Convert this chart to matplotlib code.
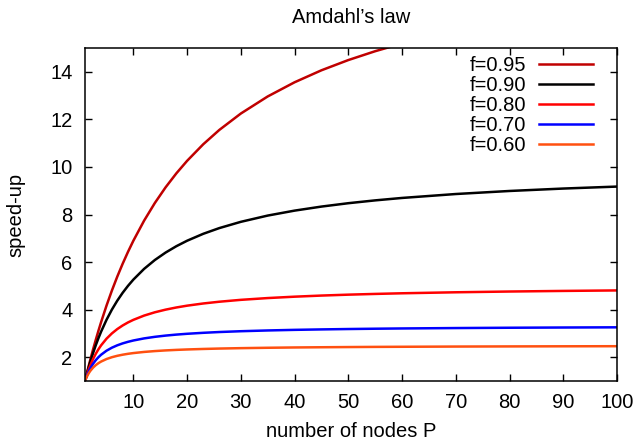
import matplotlib
matplotlib.use("Agg")
import matplotlib.pyplot as plt

plt.rcParams['font.family'] = ['Liberation Sans', 'DejaVu Sans']

title = "Amdahl\u2019s law"
xlabel = "number of nodes P"
ylabel = "speed-up"

P = [1, 1.25, 1.5, 1.75, 2, 2.5, 3, 3.5, 4, 5, 6, 7, 8, 9, 10, 12, 14, 16, 18, 20, 23, 26,
     30, 35, 40, 45, 50, 55, 60, 70, 80, 90, 100]

s095 = [1.0, 1.235, 1.463, 1.687, 1.905, 2.326, 2.727, 3.111, 3.478, 4.167, 4.800, 5.385, 5.926, 6.429,
        6.897, 7.742, 8.485, 9.143, 9.730, 10.256, 10.952, 11.556, 12.245, 12.963, 13.559, 14.063,
        14.493, 14.865, 15.190, 15.730, 16.162, 16.514, 16.807]
s090 = [1.0, 1.220, 1.429, 1.628, 1.818, 2.174, 2.5, 2.8, 3.077, 3.571, 4.0, 4.375, 4.706, 5.0,
        5.263, 5.714, 6.087, 6.4, 6.667, 6.897, 7.188, 7.429, 7.692, 7.955, 8.163, 8.333,
        8.475, 8.594, 8.696, 8.861, 8.989, 9.091, 9.174]
s080 = [1.0, 1.190, 1.364, 1.522, 1.667, 1.923, 2.143, 2.333, 2.5, 2.778, 3.0, 3.182, 3.333, 3.462,
        3.571, 3.75, 3.889, 4.0, 4.091, 4.167, 4.259, 4.333, 4.412, 4.487, 4.545, 4.592,
        4.630, 4.661, 4.688, 4.730, 4.762, 4.787, 4.808]
s070 = [1.0, 1.163, 1.304, 1.429, 1.538, 1.724, 1.875, 2.0, 2.105, 2.273, 2.4, 2.5, 2.581, 2.647,
        2.703, 2.791, 2.857, 2.909, 2.951, 2.985, 3.026, 3.059, 3.093, 3.125, 3.150, 3.169,
        3.185, 3.198, 3.209, 3.226, 3.239, 3.249, 3.257]
s060 = [1.0, 1.136, 1.25, 1.346, 1.429, 1.5625, 1.667, 1.75, 1.818, 1.923, 2.0, 2.059, 2.105, 2.143,
        2.174, 2.222, 2.258, 2.286, 2.308, 2.326, 2.347, 2.364, 2.381, 2.397, 2.410, 2.419,
        2.427, 2.434, 2.439, 2.448, 2.454, 2.459, 2.463]

labels = ["f=0.95", "f=0.90", "f=0.80", "f=0.70", "f=0.60"]
colors = ["#c00000", "#000000", "#ff0000", "#0000ff", "#ff5010"]
series = [s095, s090, s080, s070, s060]

xticks = [10, 20, 30, 40, 50, 60, 70, 80, 90, 100]
yticks = [2, 4, 6, 8, 10, 12, 14]

FS = 14.5

fig = plt.figure(figsize=(6.39, 4.41), dpi=100)
ax = fig.add_axes([85/639, 1-381/441, (617-85)/639, (381-48)/441])

for s, c, l in zip(series, colors, labels):
    ax.plot(P, s, color=c, lw=1.8, label=l, solid_joinstyle='round')

ax.set_xlim(1, 100)
ax.set_ylim(1, 15)
ax.set_xticks(xticks)
ax.set_yticks(yticks)
ax.tick_params(direction='in', top=True, right=True, length=5, width=1, labelsize=FS)
ax.tick_params(axis='x', pad=9)
ax.tick_params(axis='y', pad=9)
for sp in ax.spines.values():
    sp.set_linewidth(1.1)

ax.set_title(title, fontsize=FS, pad=18)
ax.set_xlabel(xlabel, fontsize=FS, labelpad=7)
ax.set_ylabel(ylabel, fontsize=FS, labelpad=18)

leg = ax.legend(loc='upper right', bbox_to_anchor=(0.955, 0.976), frameon=False, markerfirst=False,
                fontsize=FS, handlelength=2.7, labelspacing=0.05, handletextpad=0.6,
                borderaxespad=0, borderpad=0)
for t in leg.get_texts():
    t.set_ha('right')

fig.savefig("out.png", dpi=100)
